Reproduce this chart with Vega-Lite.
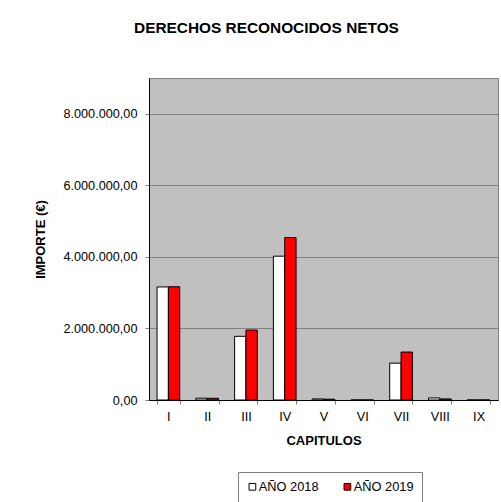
{
  "$schema": "https://vega.github.io/schema/vega-lite/v6.json",
  "autosize": "none",
  "padding": {"left": 149, "top": 78, "right": 3, "bottom": 102},
  "width": 349,
  "height": 322,
  "background": "white",
  "title": {
    "text": "DERECHOS RECONOCIDOS NETOS",
    "font": "Liberation Sans",
    "fontSize": 15.4,
    "fontWeight": "bold",
    "color": "black",
    "anchor": "middle",
    "frame": "bounds",
    "offset": 42
  },
  "data": {
    "values": [
      {"capitulo": "I", "anio": "AÑO 2018", "importe": 3160000},
      {"capitulo": "I", "anio": "AÑO 2019", "importe": 3165000},
      {"capitulo": "II", "anio": "AÑO 2018", "importe": 50000},
      {"capitulo": "II", "anio": "AÑO 2019", "importe": 48000},
      {"capitulo": "III", "anio": "AÑO 2018", "importe": 1780000},
      {"capitulo": "III", "anio": "AÑO 2019", "importe": 1955000},
      {"capitulo": "IV", "anio": "AÑO 2018", "importe": 4020000},
      {"capitulo": "IV", "anio": "AÑO 2019", "importe": 4540000},
      {"capitulo": "V", "anio": "AÑO 2018", "importe": 30000},
      {"capitulo": "V", "anio": "AÑO 2019", "importe": 22000},
      {"capitulo": "VI", "anio": "AÑO 2018", "importe": 0},
      {"capitulo": "VI", "anio": "AÑO 2019", "importe": 0},
      {"capitulo": "VII", "anio": "AÑO 2018", "importe": 1030000},
      {"capitulo": "VII", "anio": "AÑO 2019", "importe": 1340000},
      {"capitulo": "VIII", "anio": "AÑO 2018", "importe": 58000},
      {"capitulo": "VIII", "anio": "AÑO 2019", "importe": 30000},
      {"capitulo": "IX", "anio": "AÑO 2018", "importe": 0},
      {"capitulo": "IX", "anio": "AÑO 2019", "importe": 0}
    ]
  },
  "mark": {"type": "bar", "stroke": "black", "strokeWidth": 1},
  "encoding": {
    "x": {
      "field": "capitulo",
      "type": "nominal",
      "sort": ["I", "II", "III", "IV", "V", "VI", "VII", "VIII", "IX"],
      "scale": {"paddingInner": 0.415, "paddingOuter": 0.2075},
      "axis": {
        "title": "CAPITULOS",
        "labelAngle": 0,
        "tickBand": "extent",
        "titlePadding": 12
      }
    },
    "xOffset": {"field": "anio", "type": "nominal", "scale": {"paddingInner": 0, "paddingOuter": 0}},
    "y": {
      "field": "importe",
      "type": "quantitative",
      "scale": {"domain": [0, 9000000], "nice": false},
      "axis": {
        "title": "IMPORTE (€)",
        "values": [0, 2000000, 4000000, 6000000, 8000000],
        "format": ",.2f",
        "labelPadding": 8,
        "titlePadding": 15
      }
    },
    "fill": {
      "field": "anio",
      "type": "nominal",
      "scale": {"domain": ["AÑO 2018", "AÑO 2019"], "range": ["#FFFFFF", "#FF0000"]},
      "legend": {
        "title": null,
        "orient": "none",
        "legendX": 89,
        "legendY": 394,
        "direction": "horizontal",
        "symbolType": "square",
        "symbolStrokeColor": "black",
        "symbolStrokeWidth": 1,
        "symbolSize": 45,
        "labelFont": "Liberation Sans",
        "labelFontSize": 12.8,
        "labelColor": "black",
        "columnPadding": 22,
        "symbolOffset": 0,
        "labelOffset": 0,
        "padding": 8,
        "strokeColor": "#808080"
      }
    }
  },
  "config": {
    "locale": {
      "number": {"decimal": ",", "thousands": ".", "grouping": [3], "currency": ["", " €"]}
    },
    "view": {"fill": "#C0C0C0", "stroke": "#808080", "strokeWidth": 1},
    "axis": {
      "labelFont": "Liberation Sans",
      "labelFontSize": 12.7,
      "labelColor": "black",
      "titleFont": "Liberation Sans",
      "titleFontSize": 13,
      "titleFontWeight": "bold",
      "titleColor": "black",
      "domainColor": "black",
      "domainWidth": 1,
      "tickColor": "#808080",
      "tickSize": 4,
      "labelPadding": 5
    },
    "axisY": {"grid": true, "gridColor": "#808080", "gridWidth": 1, "tickColor": "#808080"},
    "axisX": {"grid": false, "labelPadding": 6}
  }
}
